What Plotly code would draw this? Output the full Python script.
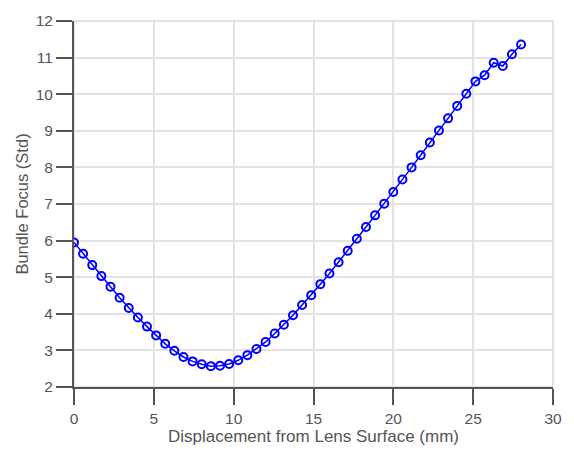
import plotly.graph_objects as go

displacement_mm = [0, 0.571, 1.143, 1.714, 2.286, 2.857, 3.429, 4.0, 4.571, 5.143,
                   5.714, 6.286, 6.857, 7.429, 8.0, 8.571, 9.143, 9.714, 10.286, 10.857,
                   11.429, 12.0, 12.571, 13.143, 13.714, 14.286, 14.857, 15.429, 16.0, 16.571,
                   17.143, 17.714, 18.286, 18.857, 19.429, 20.0, 20.571, 21.143, 21.714, 22.286,
                   22.857, 23.429, 24.0, 24.571, 25.143, 25.714, 26.286, 26.857, 27.429, 28.0]
bundle_focus = [5.95, 5.64, 5.33, 5.03, 4.74, 4.44, 4.16, 3.90, 3.65, 3.41,
                3.18, 2.99, 2.82, 2.70, 2.62, 2.57, 2.58, 2.63, 2.73, 2.87,
                3.04, 3.23, 3.46, 3.70, 3.96, 4.24, 4.51, 4.81, 5.10, 5.41,
                5.72, 6.05, 6.37, 6.69, 7.01, 7.33, 7.67, 8.00, 8.33, 8.68,
                9.01, 9.34, 9.68, 10.01, 10.35, 10.52, 10.86, 10.77, 11.09, 11.36]
x_ticks = [0, 5, 10, 15, 20, 25, 30]
y_ticks = [2, 3, 4, 5, 6, 7, 8, 9, 10, 11, 12]

fig = go.Figure()
fig.add_trace(go.Scatter(
    x=displacement_mm, y=bundle_focus, mode="lines+markers",
    line=dict(color="#0000ff", width=1.5),
    marker=dict(symbol="circle-open", size=8, color="#0000ff", line=dict(width=2)),
    showlegend=False,
))

grid = "#e3e3e3"
axis_col = "#555555"
font_fam = "Liberation Sans, Arial, sans-serif"

fig.update_layout(
    width=574, height=451,
    margin=dict(l=74, r=17, t=15, b=63),
    paper_bgcolor="white", plot_bgcolor="white",
    font=dict(family=font_fam, size=15, color="#555555"),
    xaxis=dict(
        range=[0, 30], tickvals=x_ticks, ticktext=[str(v) for v in x_ticks],
        showgrid=True, gridcolor=grid, gridwidth=2, zeroline=False,
        showline=True, linecolor=axis_col, linewidth=2,
        ticks="outside", ticklen=16, tickwidth=2, tickcolor=axis_col,
        tickfont=dict(size=15.5, color="#555555"),
        title=dict(text="Displacement from Lens Surface (mm)", font=dict(size=17, color="#555555"), standoff=1),
    ),
    yaxis=dict(
        range=[2, 12], tickvals=y_ticks, ticktext=[str(v) for v in y_ticks],
        showgrid=True, gridcolor=grid, gridwidth=2, zeroline=False,
        showline=True, linecolor=axis_col, linewidth=2,
        ticks="outside", ticklen=16, tickwidth=2, tickcolor=axis_col,
        tickfont=dict(size=15.5, color="#555555"),
        title=dict(text="Bundle Focus (Std)", font=dict(size=16.5, color="#555555"), standoff=3),
    ),
    shapes=[dict(type="rect", xref="paper", yref="paper", x0=0, y0=0, x1=1, y1=1,
                 line=dict(color=grid, width=2), layer="below")],
)

fig.write_html("out.html")
